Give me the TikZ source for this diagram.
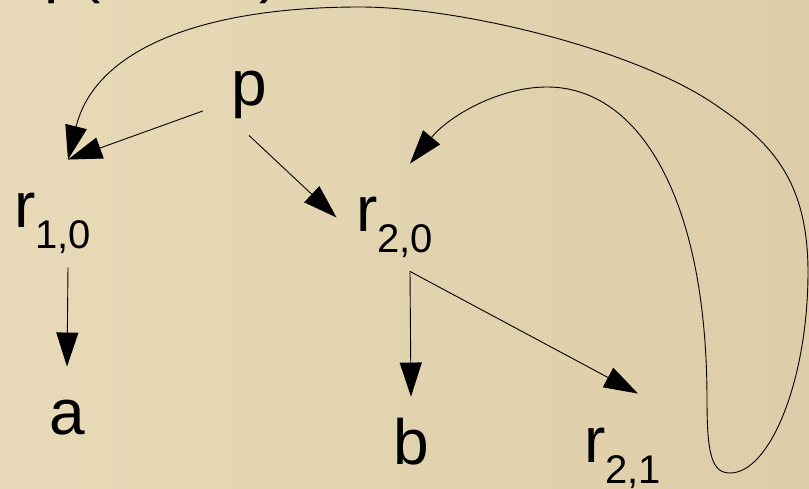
\documentclass[tikz,border=0pt]{standalone}
\usepackage{fontspec}
\setmainfont{Liberation Sans}
\usetikzlibrary{arrows.meta}
\definecolor{bgtop}{RGB}{232,218,184}
\definecolor{bgbot}{RGB}{221,205,168}
\newcommand{\subidx}[1]{\raisebox{-21pt}{\fontsize{40}{44}\selectfont #1}}

\begin{document}
\begin{tikzpicture}[x=1pt,y=-1pt,>={Triangle[length=34pt,width=22pt]},line width=0.9pt,
  every node/.style={font=\fontsize{64}{72}\selectfont},
  rnode/.style={text width=108pt,align=left,text height=68pt,text depth=39pt,inner xsep=19pt,inner ysep=0pt},
  pnode/.style={text height=19pt,text depth=29pt,inner xsep=28pt,inner ysep=0pt},
  leaf/.style={text height=67pt,text depth=0pt,inner sep=0pt}]
\shade[left color=bgtop,right color=bgbot] (0,0) rectangle (809,489);
\useasboundingbox (0,0) rectangle (809,489);

\node[anchor=base west] (head) at (5,-9) {, p(\hspace{42pt}, \hspace{24pt}, \hspace{21pt})};
\node[pnode] (p) at (249,111) {p};
\node[rnode] (r10) at (68,213.5) {r\subidx{1,0}};
\node[rnode] (r20) at (410,217.5) {r\subidx{2,0}};
\node[rnode] (r21) at (638,447.5) {r\subidx{2,1}};
\node[leaf] (a) at (67,400.5) {a};
\node[leaf] (b) at (411,430.5) {b};

\draw[->] (p.west) -- (r10.north);
\draw[->] (p.south) -- (r20.west);
\draw[->] (r10.south) -- (a.north);
\draw[->] (r20.south) -- (b.north);
\draw[->] (r20.south) -- (r21.north);

% the long loop round to the right
\draw[<->] (r20.north) .. controls (450,115) and (500,87) .. (547,87)
  .. controls (640,87) and (707,200) .. (707,400)
  .. controls (707,455) and (712,473) .. (730,473)
  .. controls (770,473) and (808,380) .. (808,272)
  .. controls (808,180) and (770,142) .. (720,108)
  .. controls (640,50) and (460,7) .. (360,7)
  .. controls (200,7) and (95,50) .. (r10.north);
\end{tikzpicture}
\end{document}
